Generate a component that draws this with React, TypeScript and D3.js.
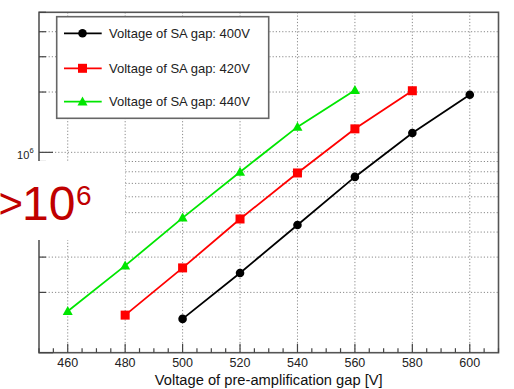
import React from "react";
import * as d3 from "d3";

// Pre-amplification gap voltages [V] for each scan
const preampV400 = [500, 520, 540, 560, 580, 600];
const preampV420 = [480, 500, 520, 540, 560, 580];
const preampV440 = [460, 480, 500, 520, 540, 560];

// Measured gain for each scan
const gain400 = [1.475e5, 2.5e5, 4.34e5, 7.54e5, 1.25e6, 1.94e6];
const gain420 = [1.54e5, 2.65e5, 4.65e5, 7.89e5, 1.31e6, 2.03e6];
const gain440 = [1.61e5, 2.72e5, 4.71e5, 7.98e5, 1.34e6, 2.04e6];

const seriesLabels = [
  "Voltage of SA gap: 400V",
  "Voltage of SA gap: 420V",
  "Voltage of SA gap: 440V",
];

const xMajorTicks = [460, 480, 500, 520, 540, 560, 580, 600];
const xTitle = "Voltage of pre-amplification gap [V]";

const W = 514;
const H = 389;
const frame = { left: 39, right: 498.5, top: 12.3, bottom: 352.7 };

type Marker = "circle" | "square" | "triangle";

const series: { xs: number[]; ys: number[]; color: string; marker: Marker; label: string }[] = [
  { xs: preampV400, ys: gain400, color: "#000000", marker: "circle", label: seriesLabels[0] },
  { xs: preampV420, ys: gain420, color: "#ff0000", marker: "square", label: seriesLabels[1] },
  { xs: preampV440, ys: gain440, color: "#00e600", marker: "triangle", label: seriesLabels[2] },
];

function MarkerShape({ kind, cx, cy, color }: { kind: Marker; cx: number; cy: number; color: string }) {
  if (kind === "circle") return <circle cx={cx} cy={cy} r={4.3} fill={color} />;
  if (kind === "square")
    return <rect x={cx - 4.5} y={cy - 4.5} width={9} height={9} fill={color} />;
  const s = 5;
  return (
    <path
      d={`M${cx},${cy - s * 1.05} L${cx + s},${cy + s * 0.75} L${cx - s},${cy + s * 0.75} Z`}
      fill={color}
    />
  );
}

export default function App() {
  const x = d3.scaleLinear().domain([450, 610]).range([frame.left, frame.right]);
  const y = d3.scaleLog().domain([1e5, 5e6]).range([frame.bottom, frame.top]);

  const xMinorTicks = d3.range(450, 611, 5).filter((v) => !xMajorTicks.includes(v));
  const yLogTicks: number[] = [];
  for (const base of [1e5, 1e6]) {
    for (let m = 1; m <= 9; m++) {
      const v = m * base;
      if (v >= 1e5 && v <= 5e6) yLogTicks.push(v);
    }
  }
  const yGrid = yLogTicks.filter((v) => v > 1e5 && v < 5e6);

  const line = d3
    .line<[number, number]>()
    .x((d) => x(d[0]))
    .y((d) => y(d[1]));

  const gridStyle = { stroke: "#8a8a8a", strokeWidth: 1, strokeDasharray: "1.2,2" };

  const legend = { x0: 56.7, x1: 268.7, y0: 16.7, y1: 118.3, rows: [33.3, 68.3, 101.7] };

  return (
    <svg
      width={W}
      height={H}
      style={{ position: "absolute", left: 0, top: 0, background: "#fff" }}
      fontFamily="'Liberation Sans', Arial, sans-serif"
    >
      <rect width={W} height={H} fill="#fff" />

      {/* grid */}
      {xMajorTicks.map((v) => (
        <line key={`gx${v}`} x1={x(v)} x2={x(v)} y1={frame.top} y2={frame.bottom} {...gridStyle} />
      ))}
      {yGrid.map((v) => (
        <line key={`gy${v}`} x1={frame.left} x2={frame.right} y1={y(v)} y2={y(v)} {...gridStyle} />
      ))}

      {/* frame */}
      <rect
        x={frame.left}
        y={frame.top}
        width={frame.right - frame.left}
        height={frame.bottom - frame.top}
        fill="none"
        stroke="#555"
        strokeWidth={1.6}
      />

      {/* x axis ticks */}
      {xMajorTicks.map((v) => (
        <line key={`xt${v}`} x1={x(v)} x2={x(v)} y1={frame.bottom} y2={frame.bottom - 9} stroke="#444" strokeWidth={1.2} />
      ))}
      {xMinorTicks.map((v) => (
        <line key={`xm${v}`} x1={x(v)} x2={x(v)} y1={frame.bottom} y2={frame.bottom - 4.5} stroke="#444" strokeWidth={1.2} />
      ))}
      {xMajorTicks.map((v) => (
        <text key={`xl${v}`} x={x(v)} y={367} textAnchor="middle" fontSize={12.5} fill="#222">
          {v}
        </text>
      ))}
      <text x={(frame.left + frame.right) / 2} y={385} textAnchor="middle" fontSize={14.7} fill="#111">
        {xTitle}
      </text>

      {/* y axis ticks */}
      {yLogTicks.map((v) => {
        const major = Math.abs(Math.log10(v) - Math.round(Math.log10(v))) < 1e-9;
        return (
          <line
            key={`yt${v}`}
            x1={frame.left}
            x2={frame.left + (major ? 14 : 7)}
            y1={y(v)}
            y2={y(v)}
            stroke="#444"
            strokeWidth={1.2}
          />
        );
      })}
      <text x={29.3} y={159} textAnchor="end" fontSize={11} fill="#222">
        10
      </text>
      <text x={29.5} y={152.5} fontSize={7.5} fill="#222">
        6
      </text>

      {/* annotation */}
      <rect x={0} y={161} width={125} height={79} fill="#fff" />
      <text x={-1.5} y={218} fontSize={42} fill="#c00000">
        {">"}
      </text>
      <text x={22} y={220} fontSize={48} fill="#c00000">
        10
      </text>
      <text x={76} y={205} fontSize={28} fill="#c00000">
        6
      </text>

      {/* data */}
      {series.map((s, i) => {
        const pts = s.xs.map((xv, j) => [xv, s.ys[j]] as [number, number]);
        return (
          <g key={`s${i}`}>
            <path d={line(pts) || ""} fill="none" stroke={s.color} strokeWidth={1.8} />
            {pts.map((p, j) => (
              <MarkerShape key={j} kind={s.marker} cx={x(p[0])} cy={y(p[1])} color={s.color} />
            ))}
          </g>
        );
      })}

      {/* legend */}
      <rect
        x={legend.x0}
        y={legend.y0}
        width={legend.x1 - legend.x0}
        height={legend.y1 - legend.y0}
        fill="#fff"
        stroke="#666"
        strokeWidth={1.6}
      />
      {series.map((s, i) => {
        const ry = legend.rows[i];
        return (
          <g key={`lg${i}`}>
            <line x1={64} x2={101.7} y1={ry} y2={ry} stroke={s.color} strokeWidth={1.8} />
            <MarkerShape kind={s.marker} cx={82.5} cy={ry} color={s.color} />
            <text x={109} y={ry + 4.6} fontSize={13} fill="#222">
              {s.label}
            </text>
          </g>
        );
      })}
    </svg>
  );
}
